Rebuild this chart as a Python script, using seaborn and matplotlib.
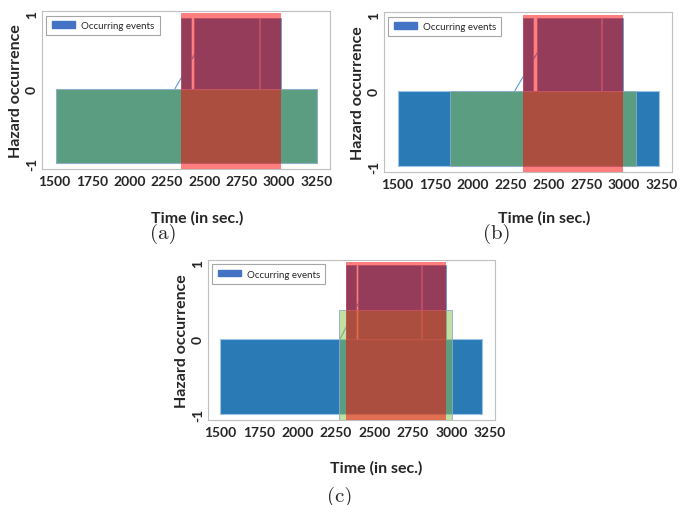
import matplotlib
matplotlib.use("Agg")
import matplotlib.pyplot as plt
import seaborn as sns
from matplotlib.patches import Patch

# Valeurs (trois scénarios a, b, c)
panels = ["(a)", "(b)", "(c)"]

hazard_start = [1510, 1505, 1500]
hazard_end = [3250, 3230, 3200]

green_start = [1510, 1853, 2271]
green_end = [3250, 3080, 3004]
green_bottom = [-1.0, -1.0, -1.2]
green_top = [0.0, 0.0, 0.38]

red_start = [2345, 2330, 2317]
red_end = [3015, 2996, 2966]
red_top = [1.02, 1.0, 1.02]

events_start = [[2345, 2434, 2870], [2330, 2422, 2856], [2317, 2396, 2808]]
events_end = [[2412, 2864, 3015], [2400, 2850, 2996], [2382, 2802, 2966]]
events_top = [0.95, 0.96, 0.97]

line_x = [[2305, 2560], [2279, 2545], [2278, 2505]]
line_y = [[0, 0.9], [0, 0.9], [0, 0.9]]

xticks = [1500, 1750, 2000, 2250, 2500, 2750, 3000, 3250]
yticks = [-1, 0, 1]
xlims = [(1417, 3339), (1414, 3316), (1420, 3282)]

sns.set_theme(style="white")
plt.rcParams["font.family"] = ["Lato", "DejaVu Sans"]

blue = "#2A7AB6"
green_rgba = (0x8B / 255, 0xC1 / 255, 0x4B / 255, 0.5)
red_rgba = (1.0, 0.0, 0.0, 0.5)

fig = plt.figure(figsize=(6.79, 5.06), dpi=100)

# Positions des axes (fraction de la figure)
positions = [[0.0619, 0.664, 0.424, 0.312],
             [0.5655, 0.658, 0.424, 0.316],
             [0.3063, 0.168, 0.4227, 0.316]]
xlabel_pos = [(0.54, -0.26), (0.556, -0.24), (0.585, -0.25)]
caption_pos = [(163, 234), (497, 234), (340, 497)]

for i, name in enumerate(panels):
    ax = fig.add_axes(positions[i])

    # Bloc de danger (-1 à 0)
    ax.bar(hazard_start[i], height=1, width=hazard_end[i] - hazard_start[i], bottom=-1,
           align="edge", color=blue, edgecolor="#9DC3E6", linewidth=0.8, zorder=1)

    # Ligne fine derrière les événements
    sns.lineplot(x=line_x[i], y=line_y[i], ax=ax, color="#5B9BD5", linewidth=0.8, zorder=1.5)

    # Événements (0 à ~1)
    widths = [e - s for s, e in zip(events_start[i], events_end[i])]
    ax.bar(events_start[i], height=events_top[i], width=widths, bottom=0,
           align="edge", color=blue, edgecolor="#6F97C9", linewidth=0.6, zorder=2)

    # Zone verte
    ax.bar(green_start[i], height=green_top[i] - green_bottom[i],
           width=green_end[i] - green_start[i], bottom=green_bottom[i],
           align="edge", color=green_rgba, edgecolor="#8EA9C8", linewidth=0.6, zorder=4)

    # Zone rouge
    ax.bar(red_start[i], height=red_top[i] + 1.2, width=red_end[i] - red_start[i],
           bottom=-1.2, align="edge", color=red_rgba, linewidth=0, zorder=5)

    ax.set_xlim(*xlims[i])
    ax.set_ylim(-1.08, 1.04)
    ax.set_xticks(xticks)
    ax.set_yticks(yticks)
    ax.set_xticklabels([str(t) for t in xticks], fontsize=10, fontweight="bold")
    ax.set_yticklabels([str(t) for t in yticks], fontsize=10, fontweight="bold",
                       rotation=90, va="center")
    ax.tick_params(axis="x", length=0, pad=4)
    ax.tick_params(axis="y", length=0, pad=3)

    for sp in ax.spines.values():
        sp.set_color("#BFBFBF")
        sp.set_linewidth(0.8)

    ax.set_xlabel("Time (in sec.)", fontsize=11.5, fontweight="bold")
    ax.xaxis.set_label_coords(*xlabel_pos[i])
    ax.set_ylabel("Hazard occurrence", fontsize=11.5, fontweight="bold")
    ax.yaxis.set_label_coords(-0.065, 0.5)

    handle = Patch(facecolor="#4472C4", edgecolor="#4472C4", label="Occurring events")
    leg = ax.legend(handles=[handle], loc="upper left", bbox_to_anchor=(0.0, 1.0),
                    fontsize=7, frameon=True, fancybox=False, framealpha=1,
                    edgecolor="#A6A6A6", borderpad=0.55, borderaxespad=0.45,
                    handlelength=2.4, handleheight=0.6, handletextpad=0.6)
    leg.get_frame().set_linewidth(0.8)
    leg.set_zorder(10)

    cx, cy = caption_pos[i]
    fig.text(cx / 679, 1 - cy / 506, name, fontsize=15, family="cmr10",
             ha="center", va="center")

plt.savefig("out.png", dpi=100)
plt.close()
